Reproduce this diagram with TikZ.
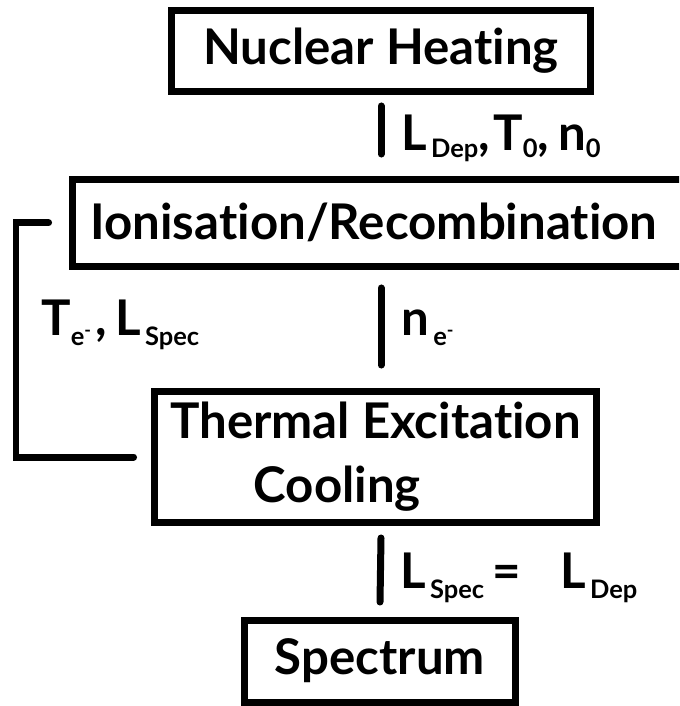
\documentclass[tikz,border=0pt]{standalone}
\usepackage{fontspec}
\setmainfont{Lato}[Ligatures={NoCommon,NoRare}]
\usetikzlibrary{calc,positioning}
\newcommand{\lowtxt}[2][6pt]{\raisebox{-#1}{\fontsize{14.5}{14.5}\selectfont #2}}
\tikzset{
  proc/.style={draw=black,line width=0.14cm,inner sep=0pt,outer sep=0pt,
    font=\fontsize{28}{36.4}\selectfont\bfseries},
  link/.style={line width=0.14cm,line cap=round},
  lbl/.style={anchor=base west,inner sep=0pt,font=\fontsize{28}{32}\selectfont\bfseries}
}

\begin{document}
\begin{tikzpicture}[x=0.02cm,y=-0.02cm]
\clip (0,0) rectangle (679,706);
% las cajas
\node[proc,minimum width=8.4cm,minimum height=1.64cm] (nuc) at (381,51) {Nuclear Heating};
\node[proc,minimum width=12.36cm,minimum height=1.75cm] (ion) at (381,222.75)
  {Ionisation/Recombination\hspace*{8pt}};
\node[proc,minimum width=8.86cm,minimum height=2.64cm,align=left] (therm) at (375.5,457)
  {Thermal Excitation\\\hspace*{1.7em}Cooling};
\node[proc,minimum width=5.44cm,minimum height=1.64cm] (spec) at (380,661) {Spectrum};
% enlaces verticales
\draw[link] ([yshift=-0.28cm]nuc.south) -- ([yshift=0.5cm]ion.north);
\draw[link] ([yshift=-0.43cm]ion.south) -- ([yshift=0.52cm]ion.south |- therm.north);
\draw[link] ([yshift=-0.3cm]therm.south -| nuc.south) -- ([yshift=0.36cm]spec.north);
% realimentacion
\coordinate (fb) at (16,0);
\draw[link,line join=miter] ([xshift=-0.41cm]therm.west) -- (therm.west -| fb)
  -- (ion.west -| fb) -- ([xshift=-0.47cm]ion.west);
% etiquetas
\node[lbl] (lab1) at (401,150) {L\lowtxt[4pt]{\,Dep},\kern2pt T\lowtxt[4pt]{0},\kern5pt n\lowtxt[4pt]{0}};
\node[lbl] (lab2) at (41,335) {T\lowtxt{e\textsuperscript{-}}\kern2pt,\,L\lowtxt{\,Spec}};
\node[lbl] (lab3) at (401,335) {n\lowtxt{\,e\textsuperscript{-}}};
\node[lbl] (lab4) at (400,588) {L\lowtxt{\,Spec}\,=\hspace{0.8em}L\lowtxt{\,Dep}};
\end{tikzpicture}
\end{document}
